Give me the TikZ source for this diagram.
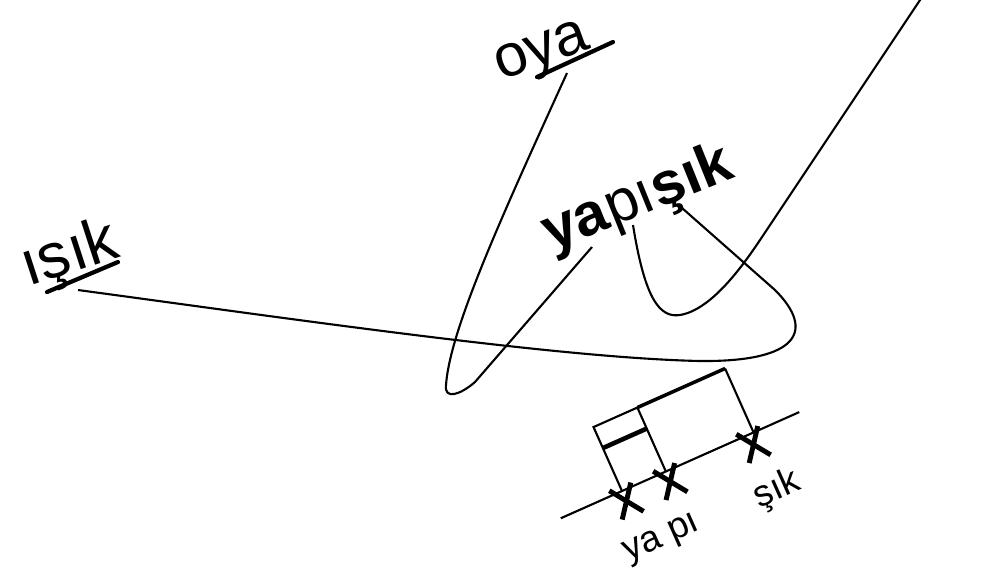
\documentclass[tikz,border=0pt]{standalone}
\usepackage{fontspec}
\setmainfont{Liberation Sans}

\begin{document}
\begin{tikzpicture}[x=0.01cm,y=-0.01cm,
  word/.style={inner sep=0pt},
  curve/.style={line width=0.6pt},
  uline/.style={line width=1.2pt,line cap=round},
  cross/.style={line width=1.4pt}]
\useasboundingbox (0,0) rectangle (1006,584);

% the words
\node[word,rotate=18,font=\fontsize{18}{20}\selectfont] (isik) at (70,256) {ışık};
\node[word,rotate=20,font=\fontsize{17}{20}\selectfont] (oya) at (543,55) {oya};
\node[word,rotate=22,font=\fontsize{17}{20}\selectfont] (yapisik) at (638,200) {\textbf{ya}pı\textbf{şık}};
\draw[uline] (47,292) -- (118,262);
\draw[uline] (537,77) -- (613,42);

% line ends
\coordinate (isik-end) at (78,290);
\coordinate (oya-end) at (567,73);
\coordinate (ya-end) at (592,247);
\coordinate (pi-end) at (633,225);
\coordinate (sik-end) at (682,208);
\coordinate (top-end) at (922,-3);

\draw[curve] (isik-end) .. controls (300,320) and (560,358) .. (700,361)
  .. controls (800,362) and (815,330) .. (775,290) -- (sik-end);
\draw[curve] (oya-end) .. controls (500,220) and (450,330) .. (446,385)
  .. controls (444,400) and (460,395) .. (475,382) -- (ya-end);
\draw[curve] (pi-end) .. controls (645,300) and (660,318) .. (680,315)
  .. controls (710,310) and (740,270) .. (760,240) -- (top-end);

% segmentation box
\begin{scope}[shift={(622,491)},rotate=24,x=0.01cm,y=0.01cm]
  \coordinate (b0) at (-67,0);
  \coordinate (b1) at (194,0);
  \draw[curve] (b0) -- (b1);
  \draw[curve] (0,0) -- (0,70) -- (48,70) -- (48,0);
  \draw[line width=1pt] (48,70) -- (144,70);
  \draw[curve] (144,70) -- (144,0);
  \draw[line width=1.3pt] (0,47) -- (48,47);
  \foreach \p in {0,48,139} {
    \draw[cross] (\p,-11) ++(-55:-20) -- ++(-55:40);
    \draw[cross] (\p,-11) ++(53:-19) -- ++(53:38);
  }
  \node[word,transform shape,font=\fontsize{10.5}{12}\selectfont] (yapi) at (17,-61) {ya pı};
  \node[word,transform shape,font=\fontsize{10.5}{12}\selectfont] (sik) at (142,-62) {şık};
\end{scope}
\end{tikzpicture}
\end{document}
